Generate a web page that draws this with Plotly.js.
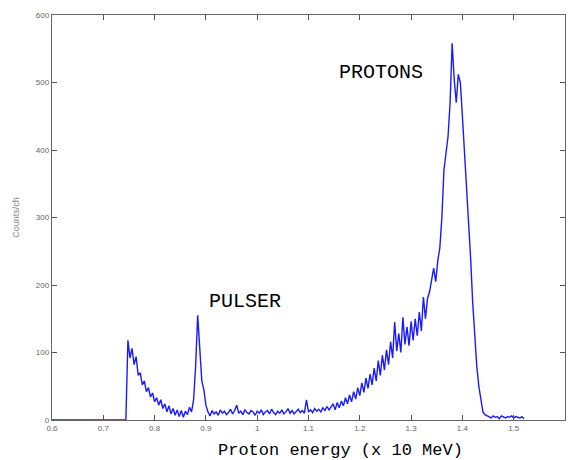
<!DOCTYPE html>
<html>
<head>
<meta charset="utf-8">
<script src="https://cdn.plot.ly/plotly-3.0.1.min.js"></script>
<style>html,body{margin:0;padding:0;background:#fff;}#chart{width:571px;height:460px;}</style>
</head>
<body>
<div id="chart"></div>
<script>
// Channel calibration of the spectrum (x 10 MeV)
const energyStart = 0.6;
const channelWidth = 0.004;

// Counts per channel
const counts = [
  0,0,0,0,0,0,0,0,0,0, 0,0,0,0,0,0,0,0,0,0, 0,0,0,0,0,0,0,0,0,0, 0,0,0,0,0,0,0,
  118,92,106,82,94,66,70,52,58,42,48,34,40,27,33,22,30,17,24,12,21,9,17,7,15,5,14,4,13,8,19,12,30,
  80,155,105,58,45,22,12,
  6,14,9,12,7,15,10,13,8,11,16,9,14,22,10,13,8,15,11,9,14,12,7,13,10,15,8,12,14,9,16,11,8,13,10,15,9,12,17,10,14,9,13,16,11,14,10,30,12,15,11,17,13,16,12,18,14,20,15,19,
  24,15,26,18,28,21,33,24,37,27,42,31,48,36,55,41,62,47,68,52,77,58,88,66,96,74,104,82,116,92,
  145,102,128,100,152,112,138,110,146,118,150,125,160,132,182,150,180,190,210,225,205,236,
  255,300,370,395,420,470,558,505,470,512,500,450,400,350,300,240,175,120,80,50,28,12,8,6,
  5,3,6,4,5,2,6,4,3,5,4,6,3,5,4,3,5,2
];

const xTickVals = [0.6,0.7,0.8,0.9,1.0,1.1,1.2,1.3,1.4,1.5,1.6];
const xTickText = ['0.6','0.7','0.8','0.9','1','1.1','1.2','1.3','1.4','1.5','1.6'];
const yTickVals = [0,100,200,300,400,500,600];

const xTitle = 'Proton energy (x 10 MeV)';
const yTitle = 'Counts/ch';
const labels = [
  {text: 'PROTONS', x: 1.241, y: 515},
  {text: 'PULSER', x: 0.976, y: 175}
];

const energy = counts.map((_, i) => +(energyStart + i * channelWidth).toFixed(4));

const trace = {
  x: energy, y: counts, type: 'scatter', mode: 'lines',
  line: {color: '#1a1aff', width: 1.4},
  hoverinfo: 'x+y'
};

const mono = 'Courier New, Liberation Mono, monospace';
const layout = {
  width: 571, height: 460,
  margin: {l: 52, r: 6, t: 15, b: 40},
  paper_bgcolor: '#fff', plot_bgcolor: '#fff',
  showlegend: false,
  xaxis: {
    range: [0.6, 1.6], tickvals: xTickVals, ticktext: xTickText,
    ticks: 'inside', ticklen: 5, tickcolor: '#555', mirror: 'ticks',
    showline: true, linecolor: '#666', linewidth: 1.2,
    showgrid: false, zeroline: false,
    tickfont: {family: 'Arial, Liberation Sans, sans-serif', size: 8, color: '#666'}
  },
  yaxis: {
    range: [0, 600], tickvals: yTickVals,
    ticks: 'inside', ticklen: 5, tickcolor: '#555', mirror: 'ticks',
    showline: true, linecolor: '#666', linewidth: 1.2,
    showgrid: false, zeroline: false,
    tickfont: {family: 'Arial, Liberation Sans, sans-serif', size: 8, color: '#666'},
    title: {text: yTitle, font: {family: 'Arial, Liberation Sans, sans-serif', size: 9, color: '#888'}, standoff: 14}
  },
  annotations: [
    ...labels.map(l => ({
      text: l.text, x: l.x, y: l.y, xref: 'x', yref: 'y', showarrow: false,
      font: {family: mono, size: 20, color: '#000'}
    })),
    {text: xTitle, xref: 'paper', yref: 'paper', x: 0.563, y: -0.075, yanchor: 'middle',
     showarrow: false, font: {family: mono, size: 17, color: '#000'}}
  ]
};

Plotly.newPlot('chart', [trace], layout, {displayModeBar: false, staticPlot: true});
</script>
</body>
</html>
